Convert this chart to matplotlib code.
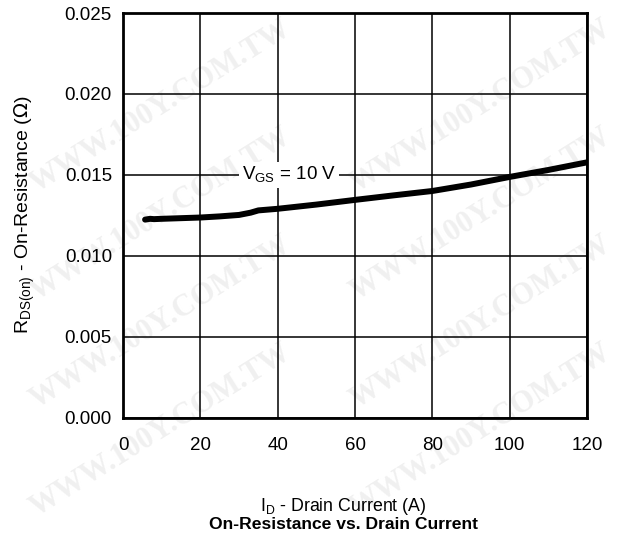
import matplotlib
matplotlib.use("Agg")
import matplotlib.pyplot as plt

plt.rcParams["font.family"] = ["Liberation Sans", "DejaVu Sans"]

# On-resistance curve, VGS = 10 V
drain_current = [5.7, 7, 8, 10, 15, 20, 25, 30, 33, 35, 40, 50, 60, 70, 80, 90, 100, 110, 120]
r_ds_on = [0.01223, 0.01228, 0.01226, 0.01228, 0.01232, 0.01236, 0.01243, 0.01252, 0.01266,
           0.01280, 0.01290, 0.01316, 0.01345, 0.01373, 0.01400, 0.01440, 0.01487, 0.01530, 0.01577]

x_ticks = [0, 20, 40, 60, 80, 100, 120]
y_ticks = [0.000, 0.005, 0.010, 0.015, 0.020, 0.025]
curve_label = "V$_{\\mathregular{GS}}$ = 10 V"

W, H = 617, 535
fig = plt.figure(figsize=(W / 100, H / 100), dpi=100)
fig.patch.set_facecolor("white")

# faint diagonal watermark behind the plot (pixel positions from bottom-left)
for px in (25, 345):
    for py in (12, 120, 228, 336):
        fig.text(px / W, py / H, "WWW.100Y.COM.TW", rotation=32, fontsize=22,
                 family="Liberation Serif", fontweight="bold", color="#f0f0f0",
                 ha="left", va="bottom", zorder=-5)

ax = fig.add_axes([0.1994, 0.2196, 0.7520, 0.7561])
ax.set_facecolor("none")

ax.plot(drain_current, r_ds_on, color="black", linewidth=4.3, solid_capstyle="round", zorder=3)

ax.set_xlim(0, 120)
ax.set_ylim(0, 0.025)
ax.set_xticks(x_ticks)
ax.set_yticks(y_ticks)
ax.set_xticklabels([str(v) for v in x_ticks])
ax.set_yticklabels([f"{v:.3f}" for v in y_ticks])
ax.tick_params(length=0, labelsize=13.5)
ax.tick_params(axis="x", pad=14)
ax.tick_params(axis="y", pad=8)
ax.grid(True, color="black", linewidth=1.1, zorder=1)
ax.set_axisbelow(True)
for spine in ax.spines.values():
    spine.set_linewidth(2)

ax.text(42.9, 0.015, curve_label, ha="center", va="center", fontsize=13.5,
        bbox=dict(facecolor="white", edgecolor="none", pad=2), zorder=2)

ax.set_ylabel("R$_{\\mathregular{DS(on)}}$ - On-Resistance ($\\Omega$)", fontsize=14)
ax.yaxis.set_label_coords(-0.185, 0.5)

fig.text(0.5568, 0.054, "I$_{\\mathregular{D}}$ - Drain Current (A)", ha="center", va="center", fontsize=12.8)
fig.text(0.5568, 0.020, "On-Resistance vs. Drain Current", ha="center", va="center",
         fontsize=12.6, fontweight="bold")

fig.savefig("out.png", dpi=100, facecolor=fig.get_facecolor())
